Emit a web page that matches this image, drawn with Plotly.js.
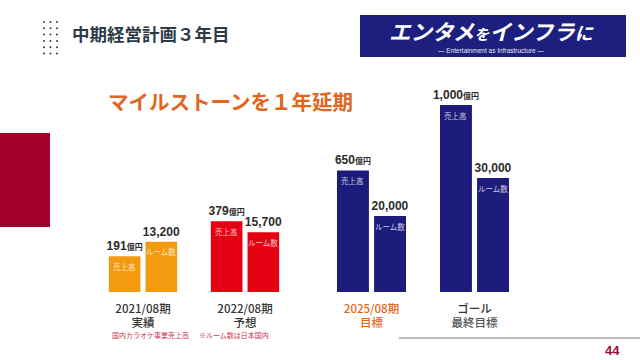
<!DOCTYPE html>
<html>
<head>
<meta charset="utf-8">
<script src="https://cdn.plot.ly/plotly-3.0.1.min.js"></script>
<style>html,body{margin:0;padding:0;background:#fff;}#chart{width:640px;height:360px;}</style>
</head>
<body>
<div id="chart"></div>
<script>
// ---- data ----
const periods = ['2021/08期', '2022/08期', '2025/08期', 'ゴール'];
const periodNotes = ['実績', '予想', '目標', '最終目標'];
const sales = [191, 379, 650, 1000];          // 億円
const rooms = [13200, 15700, 20000, 30000];   // ルーム数
const salesLabel = '売上高';
const roomsLabel = 'ルーム数';
const footnotes = ['国内カラオケ事業売上高', '※ルーム数は日本国内'];

// ---- styles ----
const ORANGE = '#f39a0e', RED = '#e50012', NAVY = '#1d1c7c';
const barColors = [ORANGE, RED, NAVY, NAVY];
const JP = '"Noto Sans CJK JP", "Noto Sans", sans-serif';
const NUM = '"Liberation Sans", Arial, "Noto Sans CJK JP", sans-serif';
const SALES_OFF = -0.335, ROOMS_OFF = 0.025, BAR_W = 0.31;

const tickColors = ['#333', '#333', '#e2661c', '#333'];
const noteColors = ['#333', '#333', '#e2661c', '#555'];
function tickText(i) {
  return '<span style="color:' + tickColors[i] + '">' + periods[i] + '</span><br>' +
         '<span style="color:' + noteColors[i] + '">' + periodNotes[i] + '</span>';
}
function fmt(v) { return v.toLocaleString('en-US'); }

const groups = [{xa: 'x', idx: [0, 1]}, {xa: 'x2', idx: [2, 3]}];
const traces = [];
const annotations = [];
groups.forEach(g => {
  const xs = g.idx.map(i => periods[i]);
  traces.push({
    type: 'bar', xaxis: g.xa, yaxis: 'y',
    x: xs, y: g.idx.map(i => sales[i]),
    offset: SALES_OFF, width: BAR_W,
    marker: {color: g.idx.map(i => barColors[i]), line: {width: 0}},
    text: g.idx.map(i => '<b>' + fmt(sales[i]) + '<span style="font-size:8px">億円</span></b>'),
    textposition: 'outside', constraintext: 'none', cliponaxis: false,
    textfont: {family: NUM, size: 12, color: '#2b2b2b'},
    hoverinfo: 'skip'
  });
  traces.push({
    type: 'bar', xaxis: g.xa, yaxis: 'y2',
    x: xs, y: g.idx.map(i => rooms[i]),
    offset: ROOMS_OFF, width: BAR_W,
    marker: {color: g.idx.map(i => barColors[i]), line: {width: 0}},
    text: g.idx.map(i => '<b>' + fmt(rooms[i]) + '</b>'),
    textposition: 'outside', constraintext: 'none', cliponaxis: false,
    textfont: {family: NUM, size: 12, color: '#2b2b2b'},
    hoverinfo: 'skip'
  });
  g.idx.forEach((i, k) => {
    annotations.push({xref: g.xa, yref: 'y', x: k + SALES_OFF + BAR_W / 2, y: sales[i],
      yshift: -10, text: salesLabel, showarrow: false, xanchor: 'center', yanchor: 'middle',
      font: {family: JP, size: 7.5, color: 'rgba(255,255,255,0.78)'}});
    annotations.push({xref: g.xa, yref: 'y2', x: k + ROOMS_OFF + BAR_W / 2, y: rooms[i],
      yshift: -10, text: roomsLabel, showarrow: false, xanchor: 'center', yanchor: 'middle',
      font: {family: JP, size: 7.5, color: 'rgba(255,255,255,0.78)'}});
  });
});

const W = 640, H = 360;
const px = x => x / W, py = y => (H - y) / H;

// headings and decorations
annotations.push(
  {xref: 'paper', yref: 'paper', x: px(70), y: py(33), xanchor: 'left', yanchor: 'middle',
   text: '<b>中期経営計画３年目</b>', showarrow: false, font: {family: JP, size: 17.5, color: '#2c3b47'}},
  {xref: 'paper', yref: 'paper', x: px(106), y: py(101), xanchor: 'left', yanchor: 'middle',
   text: '<b>マイルストーンを１年延期</b>', showarrow: false, font: {family: JP, size: 20.5, color: '#e2661c'}},
  {xref: 'paper', yref: 'paper', x: px(491), y: py(30), xanchor: 'center', yanchor: 'middle',
   text: '<b><i>エンタメ<span style="font-size:15px">を</span>インフラ<span style="font-size:18px">に</span></i></b>',
   showarrow: false, font: {family: JP, size: 21.5, color: '#ffffff'}},
  {xref: 'paper', yref: 'paper', x: px(491), y: py(50.5), xanchor: 'center', yanchor: 'middle',
   text: '― Entertainment as Infrastructure ―', showarrow: false, font: {family: NUM, size: 6.5, color: '#e8e8f4'}},
  {xref: 'paper', yref: 'paper', x: px(110), y: py(335), xanchor: 'left', yanchor: 'middle',
   text: footnotes[0], showarrow: false, font: {family: JP, size: 7, color: '#cc3355'}},
  {xref: 'paper', yref: 'paper', x: px(197), y: py(335), xanchor: 'left', yanchor: 'middle',
   text: footnotes[1], showarrow: false, font: {family: JP, size: 7, color: '#cc3355'}},
  {xref: 'paper', yref: 'paper', x: px(612), y: py(350), xanchor: 'center', yanchor: 'middle',
   text: '<b>44</b>', showarrow: false, font: {family: NUM, size: 13, color: '#9e0b35'}}
);

const shapes = [
  {type: 'rect', xref: 'paper', yref: 'paper', x0: 0, x1: px(50), y0: py(227), y1: py(133),
   fillcolor: '#a3002e', line: {width: 0}, layer: 'below'},
  {type: 'rect', xref: 'paper', yref: 'paper', x0: px(360), x1: px(626), y0: py(57), y1: py(15),
   fillcolor: '#1d1f7e', line: {width: 0}, layer: 'below'},
  {type: 'line', xref: 'paper', yref: 'paper', x0: px(399), x1: 1, y0: py(338), y1: py(338),
   line: {color: '#b9bdc1', width: 2}}
];
for (let r = 0; r < 6; r++) {
  for (let c = 0; c < 3; c++) {
    const cx = 44 + c * 6.5, cy = 22 + r * 6.3;
    shapes.push({type: 'circle', xref: 'paper', yref: 'paper',
      x0: px(cx - 1), x1: px(cx + 1), y0: py(cy + 1), y1: py(cy - 1),
      fillcolor: '#3a3f44', line: {width: 0}});
  }
}

const axisCommon = {type: 'category', range: [-0.5, 1.5], showgrid: false, zeroline: false,
  showline: false, ticks: '', tickmode: 'array', ticklabelstandoff: 8,
  tickfont: {family: JP, size: 11.5, color: '#333', weight: 500}, fixedrange: true};

const layout = {
  width: W, height: H, margin: {l: 0, r: 0, t: 0, b: 0},
  paper_bgcolor: '#ffffff', plot_bgcolor: 'rgba(0,0,0,0)',
  showlegend: false, barmode: 'overlay',
  xaxis: Object.assign({}, axisCommon, {domain: [px(92), px(296)], anchor: 'y',
    tickvals: periods.slice(0, 2), ticktext: [tickText(0), tickText(1)]}),
  xaxis2: Object.assign({}, axisCommon, {domain: [px(320), px(526)], anchor: 'y',
    tickvals: periods.slice(2, 4), ticktext: [tickText(2), tickText(3)]}),
  yaxis: {domain: [py(292), py(92)], range: [0, 1069.5], visible: false, fixedrange: true},
  yaxis2: {domain: [py(292), py(92)], range: [0, 52632], overlaying: 'y', visible: false, fixedrange: true},
  annotations: annotations,
  shapes: shapes
};

Plotly.newPlot('chart', traces, layout, {displayModeBar: false, staticPlot: true});
</script>
</body>
</html>
